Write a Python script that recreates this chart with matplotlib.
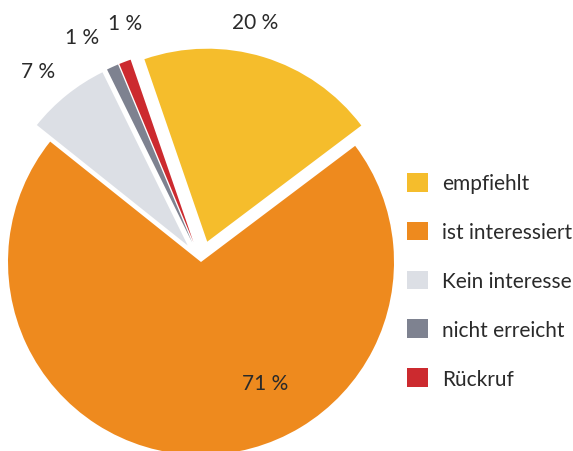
import matplotlib
matplotlib.use("Agg")
import matplotlib.pyplot as plt
import numpy as np

# Daten
labels = ["empfiehlt", "ist interessiert", "Kein interesse", "nicht erreicht", "Rückruf"]
values = [20, 71, 7, 1, 1]
pct_text = ["20 %", "71 %", "7 %", "1 %", "1 %"]
colors = ["#F5BD2C", "#EE8A1E", "#DCDFE5", "#7E8290", "#CC2A2F"]
explode = [0.11, 0.0, 0.11, 0.11, 0.11]

# Beschriftungen: (Winkel in Grad, Radius)
label_polar = [(77.3, 1.275), (-62, 0.71), (130.6, 1.30), (117.8, 1.32), (107.6, 1.30)]

plt.rcParams["font.family"] = ["Lato", "DejaVu Sans"]

fig = plt.figure(figsize=(5.73, 4.52), dpi=100)
R = 193.0
cx, cy = 201.0, 452 - 263.0
half = 1.2 * R
ax = fig.add_axes([(cx - half) / 573, (cy - half) / 452, 2 * half / 573, 2 * half / 452])

wedges, _ = ax.pie(values, colors=colors, explode=explode, startangle=109,
                   counterclock=False, wedgeprops=dict(linewidth=0))
ax.set_xlim(-1.2, 1.2)
ax.set_ylim(-1.2, 1.2)
ax.set_aspect("equal")
ax.axis("off")

for txt, (ang, r) in zip(pct_text, label_polar):
    a = np.deg2rad(ang)
    ax.text(r * np.cos(a), r * np.sin(a), txt, ha="center", va="center",
            fontsize=15, color="#2a2a2a")

fig.legend(wedges, labels, loc="upper left", bbox_to_anchor=(0.71, 0.615),
           frameon=False, fontsize=15, handlelength=1.0, handleheight=1.0,
           handletextpad=0.7, labelspacing=1.36, borderaxespad=0, borderpad=0,
           labelcolor="#2a2a2a")

fig.savefig("out.png", dpi=100)
